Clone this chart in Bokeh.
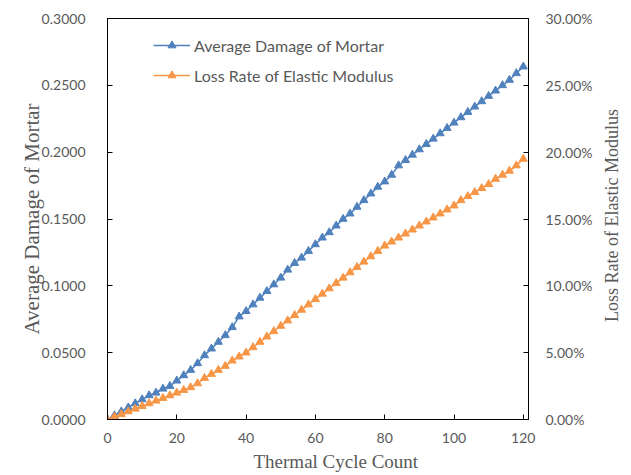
import math
from bokeh.plotting import figure
from bokeh.models import (Range1d, LinearAxis, NumeralTickFormatter, PrintfTickFormatter,
                          Legend, LegendItem, FixedTicker, Title, Label)
from bokeh.embed import file_html
from bokeh.resources import INLINE

cycles = list(range(0, 121, 2))
avg_damage = [0.000, 0.003, 0.006, 0.009, 0.012, 0.015, 0.018, 0.020, 0.023, 0.025,
              0.029, 0.033, 0.037, 0.042, 0.048, 0.053, 0.058, 0.063, 0.069, 0.077,
              0.081, 0.086, 0.091, 0.096, 0.101, 0.106, 0.112, 0.117, 0.121, 0.126,
              0.131, 0.136, 0.140, 0.145, 0.150, 0.154, 0.159, 0.164, 0.169, 0.174,
              0.178, 0.183, 0.190, 0.194, 0.198, 0.202, 0.206, 0.210, 0.214, 0.218,
              0.222, 0.226, 0.230, 0.234, 0.238, 0.242, 0.246, 0.250, 0.254, 0.259,
              0.264]
loss_rate_pct = [0.0, 0.2, 0.4, 0.6, 0.8, 1.0, 1.2, 1.4, 1.6, 1.8,
                 2.0, 2.2, 2.4, 2.7, 3.1, 3.4, 3.7, 4.0, 4.4, 4.7,
                 5.0, 5.4, 5.8, 6.2, 6.6, 7.0, 7.4, 7.8, 8.2, 8.6,
                 9.0, 9.4, 9.8, 10.2, 10.6, 11.0, 11.4, 11.8, 12.2, 12.6,
                 13.0, 13.3, 13.6, 13.9, 14.2, 14.5, 14.8, 15.1, 15.4, 15.7,
                 16.0, 16.4, 16.7, 17.0, 17.3, 17.6, 18.0, 18.3, 18.6, 19.0,
                 19.5]
x_ticks = [0, 20, 40, 60, 80, 100, 120]
left_ticks = [0.0, 0.05, 0.10, 0.15, 0.20, 0.25, 0.30]
right_ticks = [0, 5, 10, 15, 20, 25, 30]

BLUE = "#4F81BD"
ORANGE = "#F79646"
GRAY = "#595959"
TICK_FONT = "Lato"
SERIF = "Liberation Serif"

p = figure(width=631, height=475, output_backend="svg", toolbar_location=None,
           x_range=Range1d(0, 121.5), y_range=Range1d(0, 0.3),
           min_border_left=107, min_border_right=103, min_border_top=18, min_border_bottom=56)
p.extra_y_ranges = {"pct": Range1d(0, 30)}
p.grid.visible = False
p.outline_line_color = "black"
p.outline_line_width = 1

r1 = p.line(cycles, avg_damage, line_color=BLUE, line_width=1.5)
m1 = p.scatter(cycles, avg_damage, marker="triangle", size=8, fill_color=BLUE, line_color=BLUE)
r2 = p.line(cycles, loss_rate_pct, line_color=ORANGE, line_width=1.5, y_range_name="pct")
m2 = p.scatter(cycles, loss_rate_pct, marker="triangle", size=8, fill_color=ORANGE,
               line_color=ORANGE, y_range_name="pct")

ly = p.yaxis[0]
ly.ticker = FixedTicker(ticks=left_ticks)
ly.formatter = NumeralTickFormatter(format="0.0000")
ly.axis_label = "Average Damage of Mortar"

ry = LinearAxis(y_range_name="pct", ticker=FixedTicker(ticks=right_ticks),
                formatter=PrintfTickFormatter(format="%.2f%%"))
p.add_layout(ry, "right")

xa = p.xaxis[0]
xa.ticker = FixedTicker(ticks=x_ticks)

for ax in [ly, ry, xa]:
    ax.major_label_text_font = TICK_FONT
    ax.major_label_text_font_size = "14px"
    ax.major_label_text_color = GRAY
    ax.axis_label_text_font = SERIF
    ax.axis_label_text_font_size = "21px"
    ax.axis_label_text_font_style = "normal"
    ax.axis_label_text_color = GRAY
    ax.axis_line_color = "black"
    ax.major_tick_line_color = "black"
    ax.major_tick_in = 5
    ax.major_tick_out = 0
    ax.minor_tick_line_color = None

ly.major_label_standoff = 22
ly.axis_label_standoff = -5
ry.major_label_standoff = 17
xa.major_label_standoff = 13

right_label = Label(x=16, y=204, x_units="screen", y_units="screen",
                    text="Loss Rate of Elastic Modulus", angle=math.pi / 2,
                    text_align="center", text_baseline="middle", text_font=SERIF,
                    text_font_size="18px", text_color=GRAY)
p.add_layout(right_label, "right")

xtitle = Title(text="Thermal Cycle Count", align="left", offset=146,
               text_font=SERIF, text_font_size="19px", text_font_style="normal",
               text_color=GRAY, standoff=7)
p.add_layout(xtitle, "below")

legend = Legend(items=[LegendItem(label="Average Damage of Mortar", renderers=[r1, m1]),
                       LegendItem(label="Loss Rate of Elastic Modulus", renderers=[r2, m2])],
                location=(46, 334), border_line_color=None, background_fill_alpha=0,
                padding=0, spacing=10, glyph_width=37, label_height=20, glyph_height=20,
                label_standoff=4, label_text_font=TICK_FONT, label_text_font_size="16px",
                label_text_color=GRAY, margin=0)
p.add_layout(legend)

open("out.html", "w").write(file_html(p, INLINE))
